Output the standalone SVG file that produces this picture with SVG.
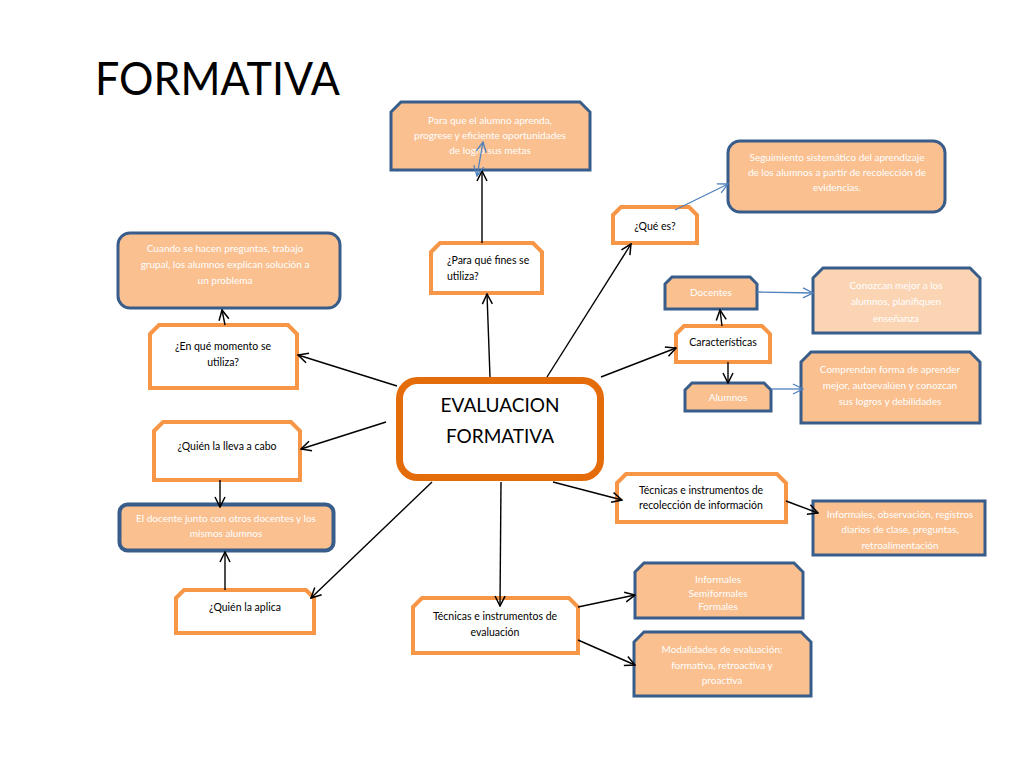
<svg xmlns="http://www.w3.org/2000/svg" width="1024" height="768" viewBox="0 0 1024 768">
<defs>
<marker id="ab" markerUnits="userSpaceOnUse" markerWidth="12" markerHeight="12" refX="11" refY="6" orient="auto"><path d="M1,1 L11,6 L1,11" fill="none" stroke="#000" stroke-width="1.5"/></marker>
<marker id="abl" markerUnits="userSpaceOnUse" markerWidth="12" markerHeight="12" refX="11" refY="6" orient="auto"><path d="M1,1 L11,6 L1,11" fill="none" stroke="#4F81BD" stroke-width="1.3"/></marker>
<marker id="ablr" markerUnits="userSpaceOnUse" markerWidth="12" markerHeight="12" refX="1" refY="6" orient="auto"><path d="M11,1 L1,6 L11,11" fill="none" stroke="#4F81BD" stroke-width="1.3"/></marker>
</defs>
<style>
.q{fill:#fff;stroke:#F79646;stroke-width:4}
.a{fill:#FAC090;stroke:#385D8A;stroke-width:3}
.al{fill:#FBD4B4;stroke:#385D8A;stroke-width:3}
.c{fill:none;stroke:#000;stroke-width:1.4;marker-end:url(#ab)}
.cb{fill:none;stroke:#4F81BD;stroke-width:1.3;marker-end:url(#abl)}
text{font-family:Lato,"Liberation Sans",sans-serif}
.tk{fill:#000;font-size:10.5px}
.tw{fill:#fff;font-size:10px;text-anchor:middle}
.m{text-anchor:middle}
</style>
<rect width="1024" height="768" fill="#fff"/>
<text x="95" y="95" font-size="47" fill="#000" textLength="245" lengthAdjust="spacingAndGlyphs">FORMATIVA</text>

<g id="n-para">
<path class="a" d="M391,112 L401,102 L580,102 L590,112 L590,170 L391,170 Z"/>
<text class="tw" x="490" y="124">Para que el alumno aprenda,</text>
<text class="tw" x="490" y="139">progrese y eficiente oportunidades</text>
<text class="tw" x="490" y="154">de logro sus metas</text>
</g>

<g id="n-seguimiento">
<rect class="a" x="728" y="141" width="217" height="71" rx="12"/>
<text class="tw" x="837" y="161">Seguimiento sistemático del aprendizaje</text>
<text class="tw" x="837" y="176">de los alumnos a partir de recolección de</text>
<text class="tw" x="837" y="191">evidencias.</text>
</g>

<g id="n-quees">
<path class="q" d="M613,215 L621,207 L689,207 L697,215 L697,243 L613,243 Z"/>
<text class="tk m" x="655" y="230">¿Qué es?</text>
</g>

<g id="n-cuando">
<rect class="a" x="118" y="233" width="222" height="75" rx="12"/>
<text class="tw" x="225" y="252">Cuando se hacen preguntas, trabajo</text>
<text class="tw" x="225" y="268">grupal, los alumnos explican solución a</text>
<text class="tw" x="225" y="284">un problema</text>
</g>

<g id="n-parafines">
<path class="q" d="M431,252 L440,243 L533,243 L542,252 L542,293 L431,293 Z"/>
<text class="tk" x="447" y="264">¿Para qué fines se</text>
<text class="tk" x="447" y="280">utiliza?</text>
</g>

<g id="n-momento">
<path class="q" d="M150,334 L159,325 L288,325 L297,334 L297,388 L150,388 Z"/>
<text class="tk m" x="223" y="350">¿En qué momento se</text>
<text class="tk m" x="223" y="366">utiliza?</text>
</g>

<g id="n-central">
<rect x="399.5" y="380.5" width="201" height="97" rx="18" fill="#fff" stroke="#E46C0A" stroke-width="7"/>
<text x="500" y="412" font-size="19" text-anchor="middle" fill="#000">EVALUACION</text>
<text x="500" y="443" font-size="19" text-anchor="middle" fill="#000">FORMATIVA</text>
</g>

<g id="n-docentes">
<path class="a" d="M665,284 L672,277 L750,277 L757,284 L757,309 L665,309 Z"/>
<text class="tw" x="711" y="296">Docentes</text>
</g>

<g id="n-caracteristicas">
<path class="q" d="M676,334 L684,326 L762,326 L770,334 L770,362 L676,362 Z"/>
<text class="tk m" x="723" y="346">Características</text>
</g>

<g id="n-alumnos">
<path class="a" d="M685,390 L692,383 L764,383 L771,390 L771,411 L685,411 Z"/>
<text class="tw" x="728" y="401">Alumnos</text>
</g>

<g id="n-conozcan">
<path class="al" d="M813,278 L823,268 L970,268 L980,278 L980,333 L813,333 Z"/>
<text class="tw" x="896" y="289">Conozcan mejor a los</text>
<text class="tw" x="896" y="305">alumnos, planifiquen</text>
<text class="tw" x="896" y="322" font-size="11">enseñanza</text>
</g>

<g id="n-comprendan">
<path class="a" d="M801,362 L811,352 L970,352 L980,362 L980,423 L801,423 Z"/>
<text class="tw" x="890" y="373">Comprendan forma de aprender</text>
<text class="tw" x="890" y="389">mejor, autoevalúen y conozcan</text>
<text class="tw" x="890" y="405">sus logros y debilidades</text>
</g>

<g id="n-quienlleva">
<path class="q" d="M154,431 L163,422 L291,422 L300,431 L300,480 L154,480 Z"/>
<text class="tk m" x="227" y="450">¿Quién la lleva a cabo</text>
</g>

<g id="n-docente">
<rect x="119.5" y="504.5" width="214" height="46" rx="8" fill="#FAC090" stroke="#385D8A" stroke-width="4"/>
<text class="tw" x="226" y="522">El docente junto con otros docentes y los</text>
<text class="tw" x="226" y="537">mismos alumnos</text>
</g>

<g id="n-quienaplica">
<path class="q" d="M176,598 L184,590 L306,590 L314,598 L314,633 L176,633 Z"/>
<text class="tk m" x="245" y="611">¿Quién la aplica</text>
</g>

<g id="n-recoleccion">
<path class="q" d="M617,483 L626,474 L777,474 L786,483 L786,522 L617,522 Z"/>
<text class="tk m" x="701" y="494">Técnicas e instrumentos de</text>
<text class="tk m" x="701" y="509">recolección de información</text>
</g>

<g id="n-informalesobs">
<rect class="a" x="813" y="501" width="172" height="54"/>
<text class="tw" x="900" y="518">Informales, observación, registros</text>
<text class="tw" x="900" y="533">diarios de clase, preguntas,</text>
<text class="tw" x="900" y="549">retroalimentación</text>
</g>

<g id="n-tecnicaseval">
<path class="q" d="M413,607 L422,598 L569,598 L578,607 L578,653 L413,653 Z"/>
<text class="tk m" x="495" y="620">Técnicas e instrumentos de</text>
<text class="tk m" x="495" y="636">evaluación</text>
</g>

<g id="n-informales">
<path class="a" d="M635,572 L644,563 L794,563 L803,572 L803,618 L635,618 Z"/>
<text class="tw" x="718" y="583">Informales</text>
<text class="tw" x="718" y="597">Semiformales</text>
<text class="tw" x="718" y="610">Formales</text>
</g>

<g id="n-modalidades">
<path class="a" d="M634,642 L644,632 L801,632 L811,642 L811,696 L634,696 Z"/>
<text class="tw" x="722" y="653">Modalidades de evaluación:</text>
<text class="tw" x="722" y="669">formativa, retroactiva y</text>
<text class="tw" x="722" y="684">proactiva</text>
</g>

<g id="connectors">
<line class="c" x1="482" y1="243" x2="482" y2="171"/>
<line class="cb" x1="477" y1="176" x2="483" y2="142" marker-start="url(#ablr)"/>
<line class="cb" x1="675" y1="210" x2="728" y2="184"/>
<line class="c" x1="547" y1="377" x2="631" y2="244"/>
<line class="c" x1="490" y1="377" x2="487" y2="294"/>
<line class="c" x1="397" y1="386" x2="298" y2="355"/>
<line class="c" x1="225" y1="325" x2="222" y2="310"/>
<line class="c" x1="601" y1="377" x2="676" y2="348"/>
<line class="c" x1="722" y1="326" x2="720" y2="310"/>
<line class="c" x1="728" y1="362" x2="728" y2="383"/>
<line class="cb" x1="757" y1="292" x2="813" y2="293"/>
<line class="cb" x1="771" y1="389" x2="803" y2="389"/>
<line class="c" x1="386" y1="422" x2="301" y2="449"/>
<line class="c" x1="220" y1="480" x2="220" y2="507"/>
<line class="c" x1="225" y1="590" x2="225" y2="552"/>
<line class="c" x1="432" y1="482" x2="311" y2="598"/>
<line class="c" x1="501" y1="482" x2="500" y2="606"/>
<line class="c" x1="553" y1="482" x2="622" y2="500"/>
<line class="c" x1="786" y1="501" x2="818" y2="513"/>
<line class="c" x1="578" y1="607" x2="635" y2="595"/>
<line class="c" x1="578" y1="640" x2="635" y2="665"/>
</g>
</svg>
